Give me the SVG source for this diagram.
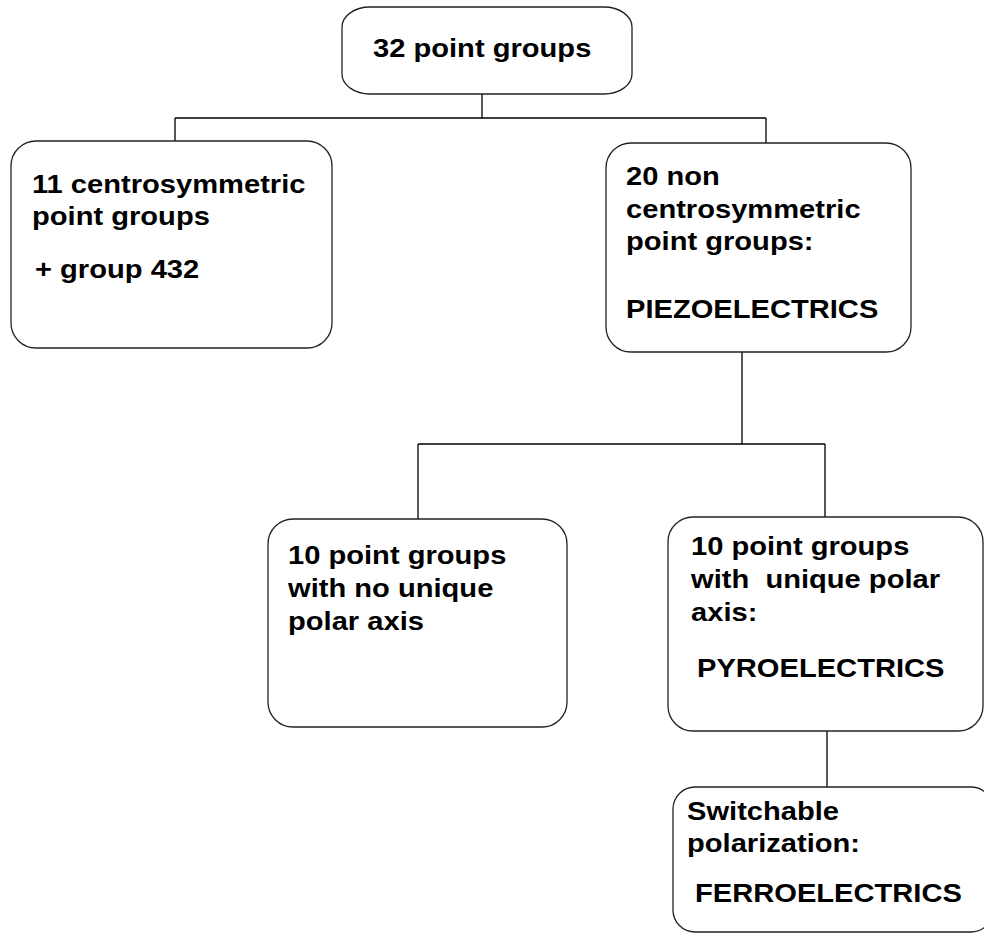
<svg xmlns="http://www.w3.org/2000/svg" width="984" height="933" viewBox="0 0 984 933">
<style>
.box{fill:#fff;stroke:#222;stroke-width:1.3}
.con{fill:none;stroke:#000;stroke-width:1.3}
text{font-family:"Liberation Sans",Arial,sans-serif;font-weight:bold;font-size:26px;fill:#000}
</style>
<rect width="984" height="933" fill="#fff"/>
<g id="connectors">
<path class="con" d="M482 94V118M175 118H766M175 118V141M766 118V143"/>
<path class="con" d="M742 352V444M418 444H825M418 444V519M825 444V517"/>
<path class="con" d="M827 731V787"/>
</g>
<g id="n-root">
<rect class="box" x="342" y="7" width="290" height="87" rx="28" ry="20"/>
<text transform="matrix(1.12 0 0 1 373 57)">32 point groups</text>
</g>
<g id="n-centro">
<rect class="box" x="11" y="141" width="321" height="207" rx="25"/>
<text transform="matrix(1.12 0 0 1 32 193)">11 centrosymmetric</text>
<text transform="matrix(1.12 0 0 1 32 225)">point groups</text>
<text transform="matrix(1.12 0 0 1 35 278)">+ group 432</text>
</g>
<g id="n-piezo">
<rect class="box" x="606" y="143" width="305" height="209" rx="25"/>
<text transform="matrix(1.12 0 0 1 626 185)">20 non</text>
<text transform="matrix(1.12 0 0 1 626 218)">centrosymmetric</text>
<text transform="matrix(1.12 0 0 1 626 250)">point groups:</text>
<text transform="matrix(1.12 0 0 1 626 318)">PIEZOELECTRICS</text>
</g>
<g id="n-nopolar">
<rect class="box" x="268" y="519" width="299" height="208" rx="25"/>
<text transform="matrix(1.12 0 0 1 288 564)">10 point groups</text>
<text transform="matrix(1.12 0 0 1 288 597)">with no unique</text>
<text transform="matrix(1.12 0 0 1 288 630)">polar axis</text>
</g>
<g id="n-pyro">
<rect class="box" x="668" y="517" width="315" height="214" rx="25"/>
<text transform="matrix(1.12 0 0 1 691 555)">10 point groups</text>
<text transform="matrix(1.12 0 0 1 691 588)" xml:space="preserve">with  unique polar</text>
<text transform="matrix(1.12 0 0 1 691 621)">axis:</text>
<text transform="matrix(1.12 0 0 1 697 677)">PYROELECTRICS</text>
</g>
<g id="n-ferro">
<rect class="box" x="673" y="787" width="320" height="145" rx="22"/>
<text transform="matrix(1.12 0 0 1 687 820)">Switchable</text>
<text transform="matrix(1.12 0 0 1 687 852)">polarization:</text>
<text transform="matrix(1.12 0 0 1 695 902)">FERROELECTRICS</text>
</g>
</svg>
